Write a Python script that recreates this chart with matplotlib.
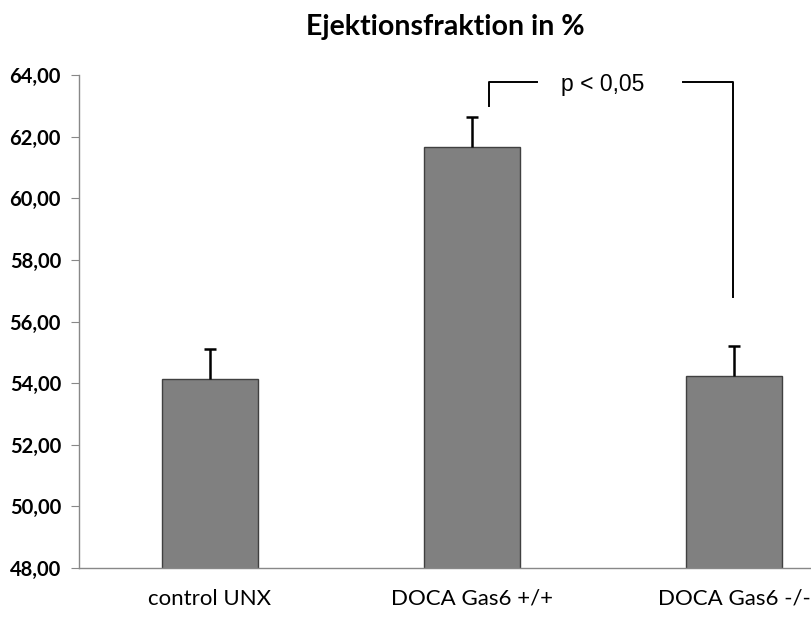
import matplotlib
matplotlib.use("Agg")
import matplotlib.pyplot as plt

categories = ["control UNX", "DOCA Gas6 +/+", "DOCA Gas6 -/-"]
means = [54.12, 61.65, 54.22]
sem = [1.0, 0.98, 1.0]
yticks = [48, 50, 52, 54, 56, 58, 60, 62, 64]

fig = plt.figure(figsize=(8.12, 6.17), dpi=100)
ax = fig.add_axes([0.0973, 0.0794, 0.968, 0.799])

x = list(range(len(categories)))
ax.bar(x, means, width=0.367, color="#808080", edgecolor="#404040", linewidth=1.0, zorder=2)
eb = ax.errorbar(x, means, yerr=[[0] * len(sem), sem], fmt="none", ecolor="black",
                 elinewidth=1.8, capsize=4, capthick=1.8, zorder=3)
# keep only the upper caps
eb[1][0].set_visible(False)

ax.set_xlim(-0.5, 2.5)
ax.set_ylim(48, 64)
ax.set_yticks(yticks)
ax.set_yticklabels([f"{v:.2f}".replace(".", ",") for v in yticks],
                   fontfamily="Lato", fontweight="bold", fontsize=14.5)
ax.set_xticks(x)
ax.set_xticklabels(categories, fontfamily="Lato", fontsize=16)
ax.tick_params(axis="x", length=0, pad=15)
ax.tick_params(axis="y", length=6, color="#888888", direction="out", pad=7)

for s in ("top", "right"):
    ax.spines[s].set_visible(False)
for s in ("left", "bottom"):
    ax.spines[s].set_color("#888888")
    ax.spines[s].set_linewidth(1.0)

# significance bracket
ax.plot([1.065, 1.065, 1.248], [63.0, 63.77, 63.77], color="black", lw=1.4, clip_on=False)
ax.plot([1.805, 1.996, 1.996], [63.77, 63.77, 56.8], color="black", lw=1.4, clip_on=False)
ax.text(1.497, 63.68, "p < 0,05", ha="center", va="center",
        fontfamily="Liberation Sans", fontsize=16.5)

fig.text(0.548, 0.956, "Ejektionsfraktion in %", ha="center", va="center",
         fontfamily="Lato", fontweight="bold", fontsize=20.5)

fig.savefig("out.png", dpi=100)
